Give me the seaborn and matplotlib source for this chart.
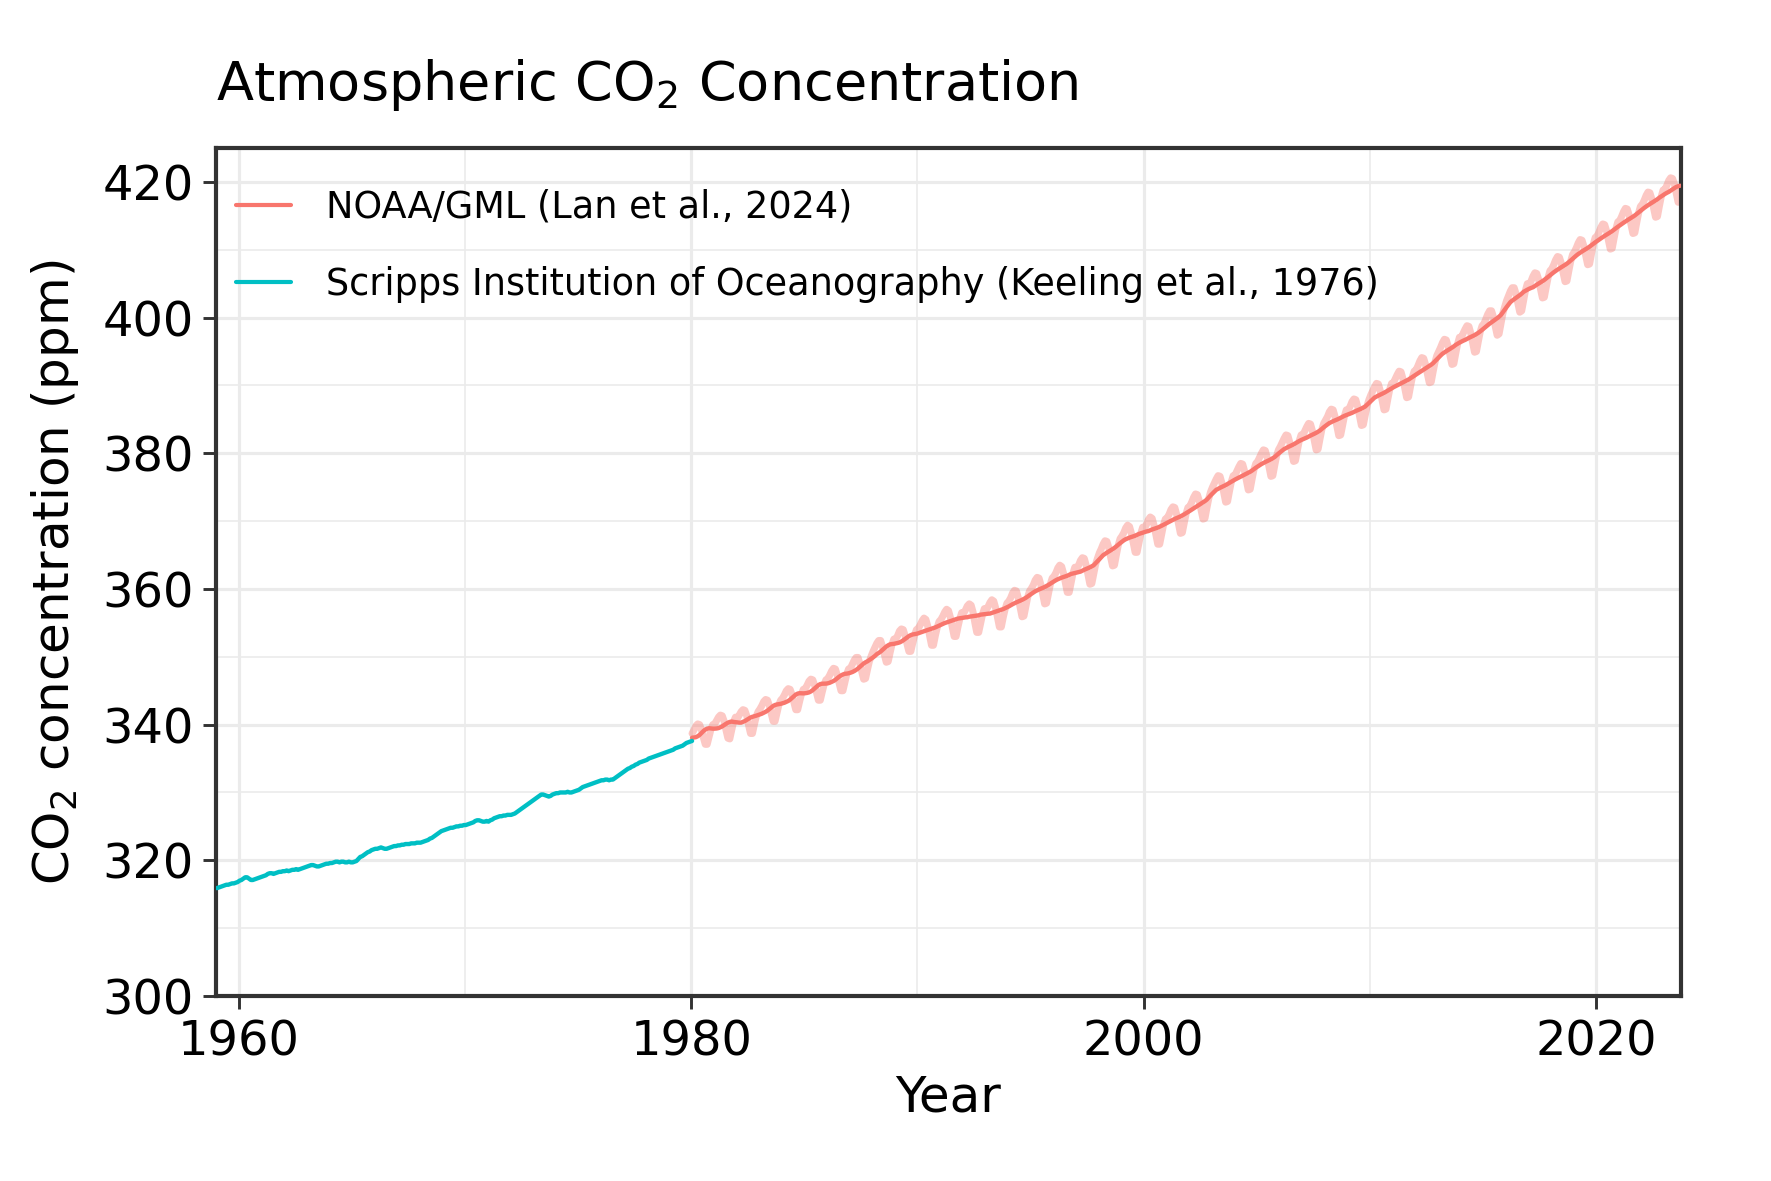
import numpy as np
import pandas as pd
import matplotlib
matplotlib.use("Agg")
import matplotlib.pyplot as plt
import seaborn as sns
from matplotlib.ticker import FixedLocator

# ---------------- data (read/estimated from the reference) ----------------
series_labels = ["NOAA/GML (Lan et al., 2024)",
                 "Scripps Institution of Oceanography (Keeling et al., 1976)"]

# Scripps (Mauna Loa), seasonally adjusted monthly values, Jan 1959 .. Jan 1980
scripps_start = 1959
scripps_ppm = [
    315.9, 316.0, 316.1, 316.2, 316.3, 316.4, 316.4, 316.5, 316.6, 316.6, 316.7, 316.8,  # 1959
    317.0, 317.1, 317.3, 317.5, 317.5, 317.3, 317.1, 317.1, 317.2, 317.3, 317.4, 317.5,  # 1960
    317.6, 317.7, 317.8, 318.0, 318.1, 318.1, 318.0, 318.1, 318.2, 318.3, 318.3, 318.4,  # 1961
    318.4, 318.5, 318.4, 318.5, 318.6, 318.6, 318.7, 318.6, 318.7, 318.8, 318.9, 319.0,  # 1962
    319.1, 319.2, 319.3, 319.3, 319.2, 319.1, 319.1, 319.2, 319.3, 319.4, 319.5, 319.5,  # 1963
    319.6, 319.6, 319.7, 319.8, 319.8, 319.7, 319.8, 319.8, 319.7, 319.7, 319.8, 319.7,  # 1964
    319.7, 319.8, 319.9, 320.2, 320.5, 320.6, 320.8, 321.0, 321.2, 321.3, 321.5, 321.6,  # 1965
    321.7, 321.7, 321.8, 321.9, 321.8, 321.7, 321.7, 321.8, 321.9, 322.0, 322.1, 322.1,  # 1966
    322.2, 322.2, 322.3, 322.3, 322.4, 322.4, 322.4, 322.5, 322.5, 322.5, 322.6, 322.6,  # 1967
    322.6, 322.7, 322.8, 322.9, 323.0, 323.2, 323.3, 323.5, 323.7, 323.9, 324.1, 324.3,  # 1968
    324.4, 324.5, 324.6, 324.7, 324.8, 324.8, 324.9, 325.0, 325.0, 325.1, 325.1, 325.2,  # 1969
    325.2, 325.3, 325.4, 325.5, 325.6, 325.8, 325.9, 325.9, 325.8, 325.7, 325.7, 325.8,  # 1970
    325.7, 325.9, 326.0, 326.2, 326.3, 326.4, 326.5, 326.5, 326.6, 326.6, 326.7, 326.7,  # 1971
    326.7, 326.8, 326.9, 327.1, 327.3, 327.5, 327.7, 327.9, 328.1, 328.3, 328.5, 328.7,  # 1972
    328.9, 329.1, 329.3, 329.5, 329.7, 329.7, 329.6, 329.5, 329.4, 329.5, 329.7, 329.8,  # 1973
    329.9, 329.9, 330.0, 330.0, 330.0, 330.0, 330.1, 330.0, 330.0, 330.1, 330.2, 330.3,  # 1974
    330.4, 330.6, 330.8, 330.9, 331.0, 331.1, 331.2, 331.3, 331.4, 331.5, 331.6, 331.7,  # 1975
    331.8, 331.8, 331.9, 331.9, 331.8, 331.9, 331.9, 332.1, 332.3, 332.5, 332.7, 332.9,  # 1976
    333.1, 333.3, 333.5, 333.6, 333.8, 333.9, 334.1, 334.2, 334.4, 334.5, 334.6, 334.7,  # 1977
    334.8, 335.0, 335.1, 335.2, 335.3, 335.4, 335.5, 335.6, 335.7, 335.8, 335.9, 336.0,  # 1978
    336.1, 336.2, 336.3, 336.5, 336.6, 336.7, 336.8, 336.9, 337.1, 337.3, 337.4, 337.5,  # 1979
    337.6,                                                                               # 1980
]

# NOAA/GML global monthly means, Jan 1980 .. Sep 2023
noaa_start = 1980
noaa_ppm = [
    338.7, 339.2, 339.8, 340.1, 340.0, 339.2, 338.1, 337.1, 337.1, 338.2, 339.3, 340.0,  # 1980
    340.1, 340.6, 341.1, 341.4, 341.3, 340.5, 339.2, 338.0, 337.9, 339.2, 340.4, 341.1,  # 1981
    340.9, 341.4, 341.9, 342.2, 342.1, 341.3, 339.9, 338.7, 338.7, 340.0, 341.2, 341.9,  # 1982
    342.3, 342.8, 343.4, 343.7, 343.6, 342.8, 341.6, 340.5, 340.5, 341.7, 342.9, 343.6,  # 1983
    343.9, 344.4, 345.0, 345.3, 345.2, 344.4, 343.3, 342.2, 342.2, 343.4, 344.5, 345.2,  # 1984
    345.3, 345.8, 346.4, 346.7, 346.6, 345.8, 344.7, 343.6, 343.6, 344.8, 345.9, 346.6,  # 1985
    346.8, 347.3, 347.9, 348.3, 348.2, 347.3, 346.1, 345.0, 345.0, 346.2, 347.4, 348.2,  # 1986
    348.3, 348.9, 349.5, 349.9, 349.9, 349.0, 347.8, 346.7, 346.8, 348.1, 349.3, 350.1,  # 1987
    350.8, 351.4, 352.0, 352.4, 352.4, 351.5, 350.3, 349.2, 349.3, 350.6, 351.8, 352.6,  # 1988
    352.6, 353.1, 353.8, 354.1, 354.0, 353.1, 351.9, 350.8, 350.8, 352.0, 353.2, 354.0,  # 1989
    354.2, 354.7, 355.3, 355.7, 355.5, 354.5, 353.1, 351.7, 351.7, 353.1, 354.3, 355.2,  # 1990
    355.5, 356.0, 356.6, 357.0, 356.8, 355.8, 354.4, 353.0, 353.0, 354.4, 355.6, 356.5,  # 1991
    356.4, 356.9, 357.5, 357.8, 357.6, 356.6, 355.0, 353.6, 353.6, 354.9, 356.2, 357.1,  # 1992
    356.9, 357.4, 358.0, 358.4, 358.2, 357.2, 355.8, 354.4, 354.4, 355.8, 357.0, 357.9,  # 1993
    358.2, 358.7, 359.4, 359.8, 359.7, 358.7, 357.3, 355.9, 356.0, 357.4, 358.8, 359.7,  # 1994
    360.1, 360.6, 361.3, 361.7, 361.6, 360.6, 359.2, 357.8, 357.9, 359.3, 360.7, 361.6,  # 1995
    361.9, 362.4, 363.1, 363.5, 363.3, 362.3, 360.9, 359.5, 359.5, 360.9, 362.3, 363.2,  # 1996
    363.0, 363.5, 364.2, 364.6, 364.5, 363.5, 362.1, 360.7, 360.8, 362.2, 363.6, 364.5,  # 1997
    365.3, 365.9, 366.6, 367.1, 367.0, 366.1, 364.7, 363.4, 363.5, 365.0, 366.4, 367.4,  # 1998
    367.8, 368.3, 369.0, 369.4, 369.2, 368.2, 366.8, 365.4, 365.4, 366.8, 368.2, 369.1,  # 1999
    369.0, 369.5, 370.2, 370.6, 370.4, 369.4, 368.0, 366.6, 366.6, 368.0, 369.4, 370.3,  # 2000
    370.5, 371.0, 371.7, 372.1, 372.0, 371.0, 369.6, 368.2, 368.3, 369.7, 371.1, 372.0,  # 2001
    372.2, 372.8, 373.5, 374.0, 373.9, 373.0, 371.6, 370.3, 370.4, 371.9, 373.3, 374.3,  # 2002
    375.0, 375.6, 376.2, 376.7, 376.6, 375.6, 374.2, 372.8, 372.9, 374.4, 375.8, 376.7,  # 2003
    376.8, 377.4, 378.0, 378.5, 378.4, 377.4, 376.0, 374.6, 374.7, 376.2, 377.6, 378.5,  # 2004
    378.8, 379.4, 380.0, 380.5, 380.4, 379.4, 378.0, 376.6, 376.7, 378.2, 379.6, 380.5,  # 2005
    381.0, 381.6, 382.2, 382.7, 382.6, 381.6, 380.2, 378.8, 378.9, 380.4, 381.8, 382.7,  # 2006
    382.7, 383.3, 383.9, 384.4, 384.3, 383.3, 381.9, 380.5, 380.6, 382.1, 383.5, 384.4,  # 2007
    384.9, 385.4, 386.1, 386.5, 386.4, 385.4, 384.0, 382.6, 382.7, 384.1, 385.5, 386.4,  # 2008
    386.4, 386.9, 387.6, 388.0, 387.9, 386.9, 385.5, 384.1, 384.2, 385.6, 387.0, 387.9,  # 2009
    388.6, 389.2, 389.8, 390.3, 390.2, 389.2, 387.8, 386.4, 386.5, 388.0, 389.4, 390.3,  # 2010
    390.4, 391.0, 391.6, 392.1, 392.0, 391.0, 389.6, 388.2, 388.3, 389.8, 391.2, 392.1,  # 2011
    392.3, 392.9, 393.6, 394.1, 394.0, 393.1, 391.7, 390.4, 390.5, 392.0, 393.4, 394.4,  # 2012
    395.0, 395.6, 396.3, 396.8, 396.7, 395.8, 394.4, 393.1, 393.2, 394.7, 396.1, 397.1,  # 2013
    397.1, 397.7, 398.3, 398.8, 398.7, 397.7, 396.3, 394.9, 395.0, 396.5, 397.9, 398.8,  # 2014
    399.1, 399.8, 400.5, 401.0, 401.0, 400.1, 398.7, 397.4, 397.6, 399.1, 400.6, 401.6,  # 2015
    402.5, 403.2, 403.9, 404.4, 404.4, 403.5, 402.1, 400.8, 401.0, 402.5, 404.0, 405.0,  # 2016
    404.8, 405.4, 406.1, 406.6, 406.5, 405.6, 404.2, 402.9, 403.0, 404.5, 405.9, 406.9,  # 2017
    407.2, 407.8, 408.5, 409.0, 408.9, 408.0, 406.6, 405.3, 405.4, 406.9, 408.3, 409.3,  # 2018
    409.7, 410.3, 411.0, 411.5, 411.4, 410.5, 409.1, 407.8, 407.9, 409.4, 410.8, 411.8,  # 2019
    412.0, 412.6, 413.3, 413.8, 413.7, 412.8, 411.4, 410.1, 410.2, 411.7, 413.1, 414.1,  # 2020
    414.3, 414.9, 415.6, 416.1, 416.0, 415.1, 413.7, 412.4, 412.5, 414.0, 415.4, 416.4,  # 2021
    416.7, 417.3, 418.0, 418.5, 418.4, 417.5, 416.1, 414.8, 414.9, 416.4, 417.8, 418.8,  # 2022
    418.9, 419.5, 420.2, 420.6, 420.5, 419.7, 418.3, 417.0, 417.1,                      # 2023
]

x_major = [1960, 1980, 2000, 2020]
x_minor = [1970, 1990, 2010]
y_major = [300, 320, 340, 360, 380, 400, 420]
y_minor = [310, 330, 350, 370, 390, 410]

RED = "#F8766D"
TEAL = "#00BFC4"

# ---------------- frames ----------------
scripps = pd.DataFrame({
    "year": scripps_start + (np.arange(len(scripps_ppm)) + 0.5) / 12.0,
    "ppm": scripps_ppm,
    "source": series_labels[1],
})

noaa = pd.DataFrame({
    "year": noaa_start + (np.arange(len(noaa_ppm)) + 0.5) / 12.0,
    "ppm": noaa_ppm,
    "month": np.arange(len(noaa_ppm)) % 12,
})
# trend: remove mean seasonal cycle estimated from the data, then smooth lightly
ma = noaa["ppm"].rolling(12, center=True).mean()
seas = (noaa["ppm"] - ma).groupby(noaa["month"]).mean()
deseason = noaa["ppm"] - noaa["month"].map(seas)
noaa_trend = pd.DataFrame({
    "year": noaa["year"],
    "ppm": deseason.rolling(5, center=True, min_periods=1).mean(),
    "source": series_labels[0],
})

main = pd.concat([noaa_trend, scripps], ignore_index=True)

# ---------------- plot ----------------
sns.set_theme(style="white")
plt.rcParams["font.family"] = ["DejaVu Sans"]
plt.rcParams["text.color"] = "black"

fig = plt.figure(figsize=(1771 / 300, 1181 / 300), dpi=300)
ax = fig.add_axes([216 / 1771, 1 - 996 / 1181, (1681 - 216) / 1771, (996 - 148) / 1181])

sns.lineplot(data=noaa, x="year", y="ppm", color=RED, alpha=0.4, lw=1.7,
             estimator=None, ax=ax, legend=False, zorder=2)
sns.lineplot(data=main, x="year", y="ppm", hue="source", hue_order=series_labels,
             palette={series_labels[0]: RED, series_labels[1]: TEAL},
             estimator=None, lw=1.05, ax=ax, zorder=3)

ax.set_xlim(1959.0, 2023.75)
ax.set_ylim(300, 425)
ax.xaxis.set_major_locator(FixedLocator(x_major))
ax.xaxis.set_minor_locator(FixedLocator(x_minor))
ax.yaxis.set_major_locator(FixedLocator(y_major))
ax.yaxis.set_minor_locator(FixedLocator(y_minor))
ax.set_xticklabels([str(v) for v in x_major])
ax.set_yticklabels([str(v) for v in y_major])

ax.grid(which="major", color="#EBEBEB", lw=0.75)
ax.grid(which="minor", color="#EBEBEB", lw=0.4)
ax.set_axisbelow(True)
for sp in ax.spines.values():
    sp.set_color("#333333")
    sp.set_linewidth(1.0)
    sp.set_visible(True)

ax.tick_params(axis="both", which="major", length=3.2, width=0.7, color="#333333",
               labelsize=11.5, labelcolor="black", pad=2.2, direction="out",
               bottom=True, left=True)
ax.tick_params(axis="both", which="minor", length=0)

ax.set_xlabel("Year", fontsize=12, labelpad=1.8, color="black")
ax.set_ylabel("CO$_2$ concentration (ppm)", fontsize=12, labelpad=5, color="black")

fig.text(216 / 1771, 1 - 100 / 1181, "Atmospheric CO$_2$ Concentration",
         fontsize=13, ha="left", va="baseline", color="black")

leg = ax.legend(loc="upper left", bbox_to_anchor=(0.006, 0.965), frameon=False,
                fontsize=8.8, handlelength=1.5, handletextpad=0.95,
                labelspacing=1.1, borderaxespad=0.0, borderpad=0.3)
for h in leg.get_lines():
    h.set_linewidth(1.0)
for t in leg.get_texts():
    t.set_color("black")

fig.savefig("out.png", dpi=300)
